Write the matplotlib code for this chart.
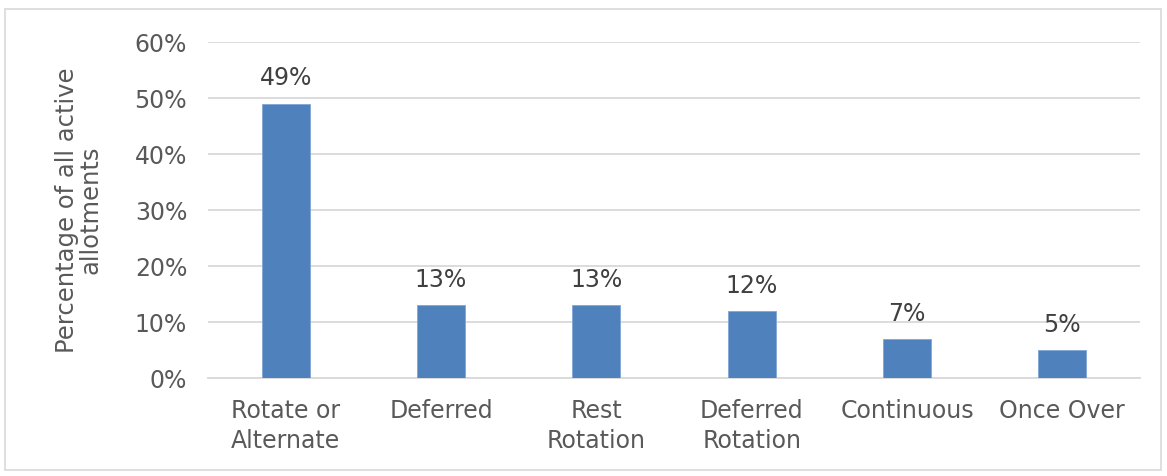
import numpy as np
import matplotlib.pyplot as plt
from matplotlib.patches import Rectangle

plt.rcParams['font.family'] = ['DejaVu Sans']

categories = ["Rotate or\nAlternate", "Deferred", "Rest\nRotation",
              "Deferred\nRotation", "Continuous", "Once Over"]
percent = [49, 13, 13, 12, 7, 5]

text_color = "#595959"
bar_color = "#4F81BD"

fig = plt.figure(figsize=(11.67, 4.76), dpi=100)
ax = fig.add_axes([208 / 1167, 1 - 378 / 476, (1140 - 208) / 1167, (378 - 42) / 476])

x = np.arange(len(categories))
ax.bar(x, percent, width=0.31, color=bar_color, edgecolor="#7FA7D8", linewidth=0.6, zorder=3)

for xi, v in zip(x, percent):
    ax.text(xi, v + 4.5, f"{v}%", ha="center", va="center", fontsize=17, color="#404040")

ax.set_xlim(-0.5, len(categories) - 0.5)
ax.set_ylim(0, 60)
ax.set_yticks(range(0, 61, 10))
ax.set_yticklabels([f"{t}%" for t in range(0, 61, 10)])
ax.set_xticks(x)
ax.set_xticklabels(categories, linespacing=1.35)
ax.tick_params(axis="both", length=0, labelsize=17, colors=text_color)
ax.tick_params(axis="y", pad=15)
ax.tick_params(axis="x", pad=15)

ax.grid(axis="y", color="#D9D9D9", linewidth=1.3, zorder=0)
for side in ["top", "right", "left"]:
    ax.spines[side].set_visible(False)
ax.spines["bottom"].set_color("#D9D9D9")
ax.spines["bottom"].set_linewidth(1.3)

ax.set_ylabel("Percentage of all active\nallotments", fontsize=17.5, color=text_color,
              labelpad=23, linespacing=1.0)

# light outline round the whole chart area
fig.patches.append(Rectangle((5 / 1167, 6 / 476), 1156 / 1167, 461 / 476,
                             transform=fig.transFigure, fill=False,
                             edgecolor="#D9D9D9", linewidth=1.2))

fig.savefig("out.png", dpi=100)
